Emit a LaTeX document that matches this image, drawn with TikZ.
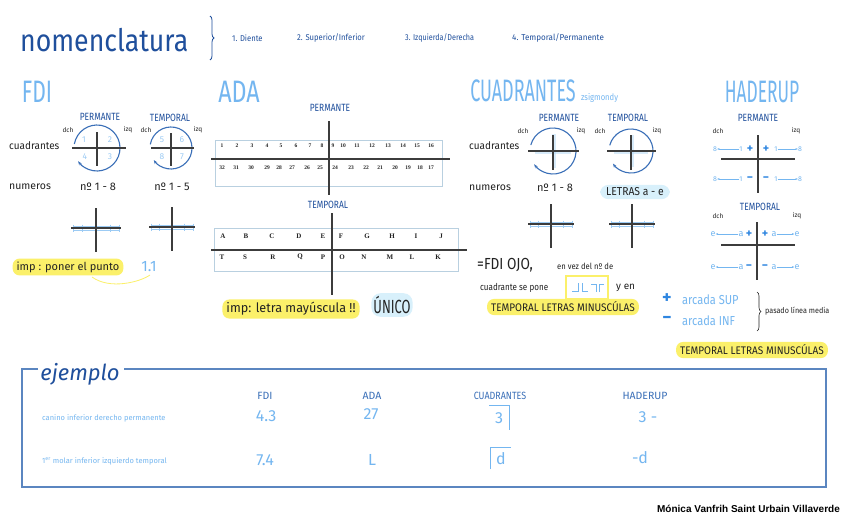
\documentclass[tikz,border=0pt]{standalone}
\usepackage{fontspec}
\setmainfont{Fira Sans}
\newfontfamily\serifnum{Liberation Serif}
\newfontfamily\credfont{Liberation Sans}
\usetikzlibrary{arrows.meta,decorations.pathreplacing}
\definecolor{dkblue}{HTML}{1F4F9C}
\definecolor{midblue}{HTML}{3A6FB8}
\definecolor{ltblue}{HTML}{74B6F0}
\definecolor{paleblue}{HTML}{9CCBF4}
\definecolor{brblue}{HTML}{2F86E0}
\definecolor{hlyellow}{HTML}{FBF06A}
\definecolor{hlcyan}{HTML}{D8F0FB}
\definecolor{boxgrey}{HTML}{B9D0E0}
\definecolor{crossgrey}{HTML}{3C3C3C}
\definecolor{txtblack}{HTML}{222222}
\definecolor{frameblue}{HTML}{5B86C0}
\newcommand\cnd[2]{\scalebox{#1}[1]{#2}}
\tikzset{
  txt/.style={inner sep=0pt, text=txtblack},
  dk/.style={inner sep=0pt, text=dkblue},
  lt/.style={inner sep=0pt, text=ltblue},
  big/.style={inner sep=0pt, text=ltblue, font=\fontsize{31}{31}\selectfont},
  lbl/.style={inner sep=0pt, text=dkblue, font=\fontsize{10.5}{10.5}\selectfont},
  side/.style={inner sep=0pt, text=txtblack, font=\fontsize{6.5}{6.5}\selectfont},
  hly/.style={fill=hlyellow, rounded corners=7pt, inner xsep=4pt, inner ysep=3pt, text=txtblack},
  hlc/.style={fill=hlcyan, rounded corners=7pt, inner xsep=4pt, inner ysep=3pt, text=txtblack},
  axis/.style={draw=crossgrey, line width=1.1pt},
  circ/.style={draw=midblue, line width=1.1pt},
  qnum/.style={inner sep=0pt, text=paleblue, font=\fontsize{8.5}{8.5}\selectfont},
  adan/.style={inner sep=0pt, text=txtblack, font=\serifnum\bfseries\fontsize{5.5}{5.5}\selectfont},
  adal/.style={inner sep=0pt, text=txtblack, font=\serifnum\bfseries\fontsize{7}{7}\selectfont},
  tick/.style={draw=paleblue, line width=0.6pt},
  hrow/.style={inner sep=0pt, text=ltblue, font=\fontsize{7}{7}\selectfont},
  hsign/.style={inner sep=0pt, text=brblue, font=\bfseries\fontsize{12}{12}\selectfont},
  harr/.style={draw=ltblue, line width=0.5pt, -{Stealth[length=2.5pt]}},
  val/.style={inner sep=0pt, text=ltblue, font=\fontsize{16}{16}\selectfont},
  colh/.style={inner sep=0pt, text=midblue, font=\fontsize{10.5}{10.5}\selectfont},
}
\begin{document}
\begin{tikzpicture}[x=1pt,y=-1pt]
\fill[white] (0,0) rectangle (848,530);
\useasboundingbox (0,0) rectangle (848,530);

% ---------- header ----------
\node[dk, anchor=west, font=\fontsize{31}{31}\selectfont] (title) at (20,40) {\cnd{0.86}{nomenclatura}};
\draw[dkblue, line width=0.8pt, decorate, decoration={brace, amplitude=4pt}] (210,16) -- (210,60);
\node[dk, anchor=west, font=\fontsize{8.5}{8.5}\selectfont] (h1) at (232,38) {\cnd{0.9}{1. Diente}};
\node[dk, anchor=west, font=\fontsize{8.5}{8.5}\selectfont] (h2) at (297,38) {\cnd{0.9}{2. Superior/Inferior}};
\node[dk, anchor=west, font=\fontsize{8.5}{8.5}\selectfont] (h3) at (405,38) {\cnd{0.85}{3. Izquierda/Derecha}};
\node[dk, anchor=west, font=\fontsize{8.5}{8.5}\selectfont] (h4) at (512,38) {\cnd{0.95}{4. Temporal/Permanente}};

% ---------- FDI ----------
\node[big] (fdi) at (37,92) {\cnd{0.68}{FDI}};
\node[lbl] (fp) at (100,117) {\cnd{0.8}{PERMANTE}};
\node[lbl] (ft) at (170,118) {\cnd{0.8}{TEMPORAL}};
\node[side] (fd1) at (68,130) {dch};
\node[side] (fi1) at (128,130) {izq};
\node[side] (fd2) at (146,130) {dch};
\node[side] (fi2) at (198,130) {izq};
\node[txt, anchor=west, font=\fontsize{10.5}{10.5}\selectfont] (fcu) at (9,146) {\cnd{0.95}{cuadrantes}};
\node[txt, anchor=west, font=\fontsize{10.5}{10.5}\selectfont] (fnu) at (9,187) {numeros};
% permanent circle
\coordinate (fc1) at (97,148);
\draw[circ, -{Stealth[length=4pt]}] (fc1) ++(190:23) arc[start angle=190, end angle=505, radius=23];
\draw[axis] (72,148) -- (126,148);
\draw[axis] (97,132) -- (97,166);
\node[qnum] (q1) at (84,140) {1};
\node[qnum] (q2) at (110,140) {2};
\node[qnum] (q4) at (85,157) {4};
\node[qnum] (q3) at (110,157) {3};
% temporal circle
\coordinate (fc2) at (171,148);
\draw[circ, -{Stealth[length=4pt]}] (fc2) ++(190:21) arc[start angle=190, end angle=505, radius=21];
\draw[axis] (151,148) -- (194,148);
\draw[axis] (171,133) -- (171,166);
\node[qnum] (q5) at (162,140) {5};
\node[qnum] (q6) at (182,140) {6};
\node[qnum] (q8) at (162,157) {8};
\node[qnum] (q7) at (182,157) {7};
\node[txt, font=\fontsize{11}{11}\selectfont] (fn1) at (98,187) {nº 1 - 8};
\node[txt, font=\fontsize{11}{11}\selectfont] (fn2) at (172,187) {nº 1 - 5};
% small crosses
\foreach \cx/\cy/\hw in {96/228/23, 172/227/21, 551/224/21, 632/224/21}{
  \draw[tick] (\cx-\hw,\cy-2) -- (\cx+\hw,\cy-2);
  \draw[tick] (\cx-\hw,\cy+2) -- (\cx+\hw,\cy+2);
  \foreach \k in {-1,-0.6,0.6,1}{\draw[tick] (\cx+\k*\hw,\cy-3.5) -- (\cx+\k*\hw,\cy+3.5);}
  \draw[axis] (\cx-\hw-2,\cy) -- (\cx+\hw+2,\cy);
  \draw[axis] (\cx,\cy-20) -- (\cx,\cy+24);
}
\node[hly, font=\fontsize{11}{11}\selectfont] (imp1) at (68,267) {imp : poner el punto};
\node[lt, font=\fontsize{15}{15}\selectfont] (p11) at (149,267) {1.1};
\draw[hlyellow, line width=0.8pt] (92,277) .. controls (110,290) and (140,282) .. (150,275);

% ---------- ADA ----------
\node[big] (ada) at (239,92) {\cnd{0.75}{ADA}};
\node[lbl] (ap) at (330,108) {\cnd{0.8}{PERMANTE}};
\draw[draw=boxgrey, line width=0.8pt] (215,140) rectangle (442,186);
\draw[axis] (211,159) -- (450,159);
\draw[axis] (329,121) -- (329,195);
\foreach \n/\x in {1/222,2/237,3/252,4/267,5/281,6/296,7/310,8/322,9/333,10/343,11/357,12/372,13/388,14/403,15/417,16/431}{
  \node[adan] (u\n) at (\x,146) {\n};}
\foreach \n/\x in {32/222,31/236,30/251,29/267,28/279,27/292,26/307,25/320,24/335,23/351,22/366,21/380,20/395,19/408,18/420,17/431}{
  \node[adan] (l\n) at (\x,168) {\n};}
\node[lbl] (at) at (328,205) {\cnd{0.8}{TEMPORAL}};
\draw[draw=boxgrey, line width=0.8pt] (214,228) rectangle (458,271);
\draw[axis] (211,250) -- (467,250);
\draw[axis] (332,213) -- (332,295);
\foreach \n/\x in {A/223,B/246,C/272,D/299,E/323,F/341,G/367,H/392,I/416,J/441}{
  \node[adal] (t\n) at (\x,236) {\n};}
\foreach \n/\x in {T/222,S/245,R/273,Q/300,P/323,O/342,N/364,M/390,L/412,K/438}{
  \node[adal] (b\n) at (\x,257) {\n};}
\node[hly, font=\fontsize{13}{13}\selectfont] (imp2) at (291,309) {\cnd{0.97}{imp: letra mayúscula !!}};
\node[hlc, rounded corners=9pt, inner xsep=2pt, font=\fontsize{19}{19}\selectfont] (unico) at (392,305) {\cnd{0.68}{ÚNICO}};

% ---------- CUADRANTES ----------
\node[big] (cuad) at (523,91) {\cnd{0.58}{CUADRANTES}};
\node[lt, anchor=west, font=\fontsize{9}{9}\selectfont] (zsig) at (581,98) {\cnd{0.85}{zsigmondy}};
\node[lbl] (cp) at (559,118) {\cnd{0.8}{PERMANTE}};
\node[lbl] (ct) at (628,118) {\cnd{0.8}{TEMPORAL}};
\node[side] (cd1) at (523,131) {dch};
\node[side] (ci1) at (581,131) {izq};
\node[side] (cd2) at (600,131) {dch};
\node[side] (ci2) at (657,131) {izq};
\node[txt, anchor=west, font=\fontsize{10.5}{10.5}\selectfont] (ccu) at (469,146) {\cnd{0.95}{cuadrantes}};
\node[txt, anchor=west, font=\fontsize{10.5}{10.5}\selectfont] (cnu) at (469,188) {numeros};
\foreach \cx/\r in {553/23, 631/22}{
  \draw[hlcyan!60!ltblue, line width=4pt, opacity=0.5] (\cx-\r+5,152) -- (\cx+\r-5,152);
  \draw[hlcyan!60!ltblue, line width=4pt, opacity=0.5] (\cx+1,151-\r+6) -- (\cx+1,151+\r-6);
  \draw[circ, -{Stealth[length=4pt]}] (\cx,151) ++(195:\r) arc[start angle=195, end angle=505, radius=\r];
  \draw[axis] (\cx-\r-2,151) -- (\cx+\r+3,151);
  \draw[axis] (\cx,135) -- (\cx,170);
}
\node[txt, font=\fontsize{11}{11}\selectfont] (cn1) at (555,188) {nº 1 - 8};
\node[hlc, rounded corners=8pt, inner xsep=6pt, font=\fontsize{11.5}{11.5}\selectfont] (letras) at (635,192) {\cnd{0.9}{LETRAS a - e}};
\node[txt, anchor=west, font=\fontsize{16}{16}\selectfont] (ojo) at (477,265) {\cnd{0.85}{=FDI OJO,}};
\node[txt, anchor=west, font=\fontsize{8.5}{8.5}\selectfont] (ojo2) at (557,266) {\cnd{0.9}{en vez del nº de}};
\node[txt, anchor=west, font=\fontsize{9.5}{9.5}\selectfont] (ojo3) at (480,288) {\cnd{0.85}{cuadrante se pone}};
\draw[hlyellow, line width=2pt] (566,276) rectangle (608,299);
\draw[ltblue, line width=0.7pt] (572,291) -- (578,291) -- (578,283);
\draw[ltblue, line width=0.7pt] (582,283) -- (582,291) -- (588,291);
\draw[ltblue, line width=0.7pt] (591,284) -- (596,284) -- (596,292);
\draw[ltblue, line width=0.7pt] (599,292) -- (599,284) -- (604,284);
\node[txt, anchor=west, font=\fontsize{10}{10}\selectfont] (yen) at (616,288) {y en};
\node[hly, font=\fontsize{11}{11}\selectfont] (tlm1) at (563,307) {\cnd{0.91}{TEMPORAL LETRAS MINUSCÚLAS}};

% ---------- HADERUP ----------
\node[big] (had) at (762,92) {\cnd{0.56}{HADERUP}};
\node[lbl] (hp) at (758,118) {\cnd{0.8}{PERMANTE}};
\node[side] (hd1) at (718,131) {dch};
\node[side] (hi1) at (796,131) {izq};
\draw[axis] (721,159) -- (795,159);
\draw[axis] (758,135) -- (758,193);
% upper row permanent
\node[hrow] (pa1) at (715,149) {8};
\node[hrow] (pb1) at (741,149) {1};
\node[hsign] (pc1) at (750,149) {+};
\node[hsign] (pd1) at (766,149) {+};
\node[hrow] (pe1) at (776,149) {1};
\node[hrow] (pf1) at (800,149) {8};
\draw[harr] (pb1) -- (pa1);
\draw[harr] (pe1) -- (pf1);
% lower row permanent
\node[hrow] (pa2) at (715,179) {8};
\node[hrow] (pb2) at (741,179) {1};
\node[hsign] (pc2) at (750,179) {\textminus};
\node[hsign] (pd2) at (766,179) {\textminus};
\node[hrow] (pe2) at (776,179) {1};
\node[hrow] (pf2) at (800,179) {8};
\draw[harr] (pb2) -- (pa2);
\draw[harr] (pe2) -- (pf2);
\node[lbl] (htl) at (760,207) {\cnd{0.8}{TEMPORAL}};
\node[side] (hd2) at (718,216) {dch};
\node[side] (hi2) at (797,216) {izq};
\draw[axis] (721,245) -- (795,245);
\draw[axis] (757,222) -- (757,280);
\node[hrow, font=\fontsize{9}{9}\selectfont] (ta1) at (713,234) {e};
\node[hrow, font=\fontsize{9}{9}\selectfont] (tb1) at (741,234) {a};
\node[hsign] (tc1) at (749,234) {+};
\node[hsign] (td1) at (765,234) {+};
\node[hrow, font=\fontsize{9}{9}\selectfont] (te1) at (774,234) {a};
\node[hrow, font=\fontsize{9}{9}\selectfont] (tf1) at (797,234) {e};
\draw[harr] (tb1) -- (ta1);
\draw[harr] (te1) -- (tf1);
\node[hrow, font=\fontsize{9}{9}\selectfont] (ta2) at (713,267) {e};
\node[hrow, font=\fontsize{9}{9}\selectfont] (tb2) at (741,267) {a};
\node[hsign] (tc2) at (749,267) {\textminus};
\node[hsign] (td2) at (765,267) {\textminus};
\node[hrow, font=\fontsize{9}{9}\selectfont] (te2) at (774,267) {a};
\node[hrow, font=\fontsize{9}{9}\selectfont] (tf2) at (797,267) {e};
\draw[harr] (tb2) -- (ta2);
\draw[harr] (te2) -- (tf2);
\node[inner sep=0pt, text=brblue, font=\bfseries\fontsize{18}{18}\selectfont] (plus) at (667,299) {+};
\node[lt, anchor=west, font=\fontsize{13}{13}\selectfont] (asup) at (682,300) {\cnd{0.85}{arcada SUP}};
\node[inner sep=0pt, text=brblue, font=\bfseries\fontsize{18}{18}\selectfont] (minus) at (667,320) {\textminus};
\node[lt, anchor=west, font=\fontsize{13}{13}\selectfont] (ainf) at (682,321) {\cnd{0.85}{arcada INF}};
\draw[txtblack, line width=0.6pt, decorate, decoration={brace, amplitude=4pt}] (757,292) -- (757,331);
\node[txt, anchor=west, font=\fontsize{8}{8}\selectfont] (plm) at (765,311) {\cnd{0.9}{pasado línea media}};
\node[hly, font=\fontsize{11}{11}\selectfont] (tlm2) at (752,350) {\cnd{0.91}{TEMPORAL LETRAS MINUSCÚLAS}};

% ---------- ejemplo ----------
\draw[frameblue, line width=1.1pt] (38,369) -- (22,369) -- (22,487) -- (826,487) -- (826,369) -- (124,369);
\node[dk, font=\itshape\fontsize{22}{22}\selectfont] (ej) at (80,374) {ejemplo};
\node[colh] (c1) at (265,396) {FDI};
\node[colh] (c2) at (372,396) {ADA};
\node[colh] (c3) at (500,396) {\cnd{0.85}{CUADRANTES}};
\node[colh] (c4) at (645,396) {HADERUP};
\node[lt, anchor=west, font=\fontsize{7.5}{7.5}\selectfont] (r1) at (42,418) {canino inferior derecho permanente};
\node[lt, anchor=west, font=\fontsize{7.5}{7.5}\selectfont] (r2) at (42,461) {1\textsuperscript{er} molar inferior izquierdo temporal};
\node[val] (v11) at (266,416) {4.3};
\node[val] (v12) at (371,414) {27};
\node[val] (v13) at (499,418) {3};
\draw[ltblue, line width=1pt] (489,405) -- (509,405) -- (509,430);
\node[val] (v14) at (648,417) {3 -};
\node[val] (v21) at (265,460) {7.4};
\node[val] (v22) at (372,460) {L};
\node[val] (v23) at (501,459) {d};
\draw[ltblue, line width=1pt] (490,469) -- (490,447) -- (511,447);
\node[val] (v24) at (640,458) {-d};

% credit
\node[inner sep=0pt, anchor=east, font=\credfont\bfseries\fontsize{10}{10}\selectfont] (cred) at (840,509) {Mónica Vanfrih Saint Urbain Villaverde};
\end{tikzpicture}
\end{document}
